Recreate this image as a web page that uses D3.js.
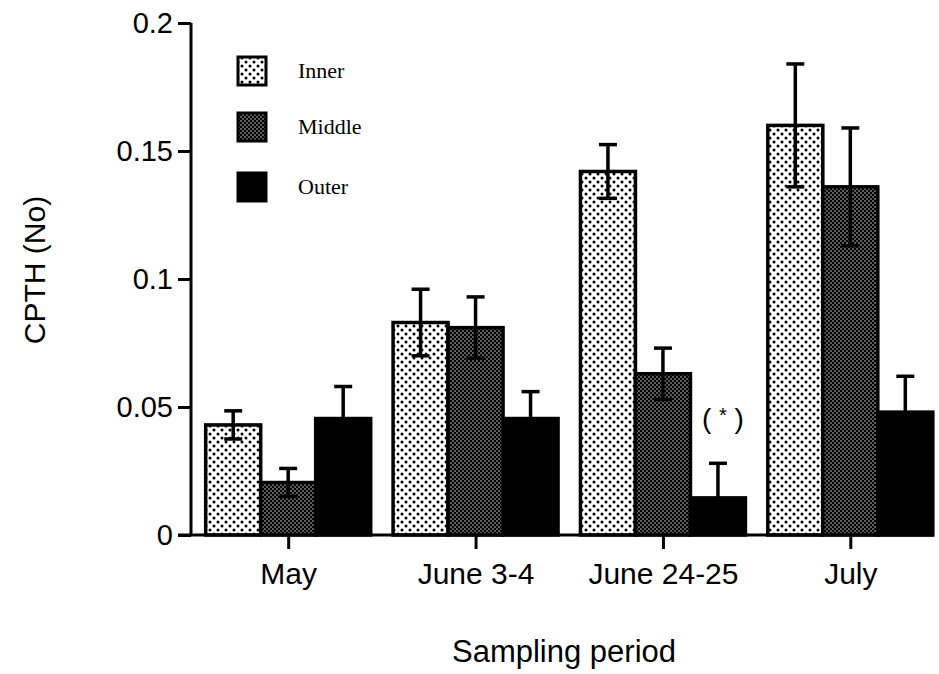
<!DOCTYPE html>
<html><head><meta charset="utf-8">
<script src="https://cdn.jsdelivr.net/npm/d3@7"></script>
<style>body{margin:0;background:#fff}svg{display:block}</style>
</head><body><svg id="c" width="939" height="674"></svg>
<script>
const categories = ["May", "June 3-4", "June 24-25", "July"];
const seriesNames = ["Inner", "Middle", "Outer"];
const inner  = [0.043, 0.083, 0.142, 0.160];
const middle = [0.0205, 0.081, 0.063, 0.136];
const outer  = [0.0455, 0.0455, 0.0145, 0.048];
const innerErr  = [0.0055, 0.013, 0.0105, 0.024];
const middleErr = [0.0055, 0.012, 0.010, 0.023];
const outerErr  = [0.0125, 0.0105, 0.0135, 0.014];
const yTicks = [0, 0.05, 0.1, 0.15, 0.2];
const yTickLabels = ["0", "0.05", "0.1", "0.15", "0.2"];

const values = [inner, middle, outer];
const errs = [innerErr, middleErr, outerErr];

const svg = d3.select("#c");
const defs = svg.append("defs");
const p1 = defs.append("pattern").attr("id","pInner").attr("patternUnits","userSpaceOnUse")
  .attr("width",8).attr("height",8);
p1.append("rect").attr("width",8).attr("height",8).attr("fill","#fff");
p1.append("circle").attr("cx",2).attr("cy",2).attr("r",1.5).attr("fill","#000");
p1.append("circle").attr("cx",6).attr("cy",6).attr("r",1.5).attr("fill","#000");
const p2 = defs.append("pattern").attr("id","pMiddle").attr("patternUnits","userSpaceOnUse")
  .attr("width",4).attr("height",4);
p2.append("rect").attr("width",4).attr("height",4).attr("fill","#000");
p2.append("circle").attr("cx",1).attr("cy",1).attr("r",0.7).attr("fill","#fff");
p2.append("circle").attr("cx",3).attr("cy",3).attr("r",0.7).attr("fill","#fff");
const fills = ["url(#pInner)", "url(#pMiddle)", "#000"];

const axisX = 191, baseY = 535, topY = 23, rightX = 933;
const y = d3.scaleLinear().domain([0, 0.2]).range([baseY, topY]);
const x0 = d3.scaleBand().domain(categories).range([194.5, 944]).padding(0);
const groupW = 165;
const x1 = d3.scaleBand().domain(seriesNames).range([-groupW/2, groupW/2]).padding(0);
const cx = c => x0(c) + x0.bandwidth()/2;

categories.forEach((c, i) => {
  seriesNames.forEach((s, j) => {
    svg.append("rect")
      .attr("x", cx(c) + x1(s))
      .attr("y", y(values[j][i]))
      .attr("width", x1.bandwidth())
      .attr("height", y(0) - y(values[j][i]))
      .attr("fill", fills[j])
      .attr("stroke", "#000").attr("stroke-width", 3.5);
  });
});
categories.forEach((c, i) => {
  seriesNames.forEach((s, j) => {
    const xm = cx(c) + x1(s) + x1.bandwidth()/2;
    const v = values[j][i], e = errs[j][i];
    const g = svg.append("g").attr("stroke","#000").attr("stroke-width",3.5).attr("fill","none");
    g.append("line").attr("x1",xm).attr("x2",xm).attr("y1",y(v+e)).attr("y2",y(Math.max(0,v-e)));
    g.append("line").attr("x1",xm-9).attr("x2",xm+9).attr("y1",y(v+e)).attr("y2",y(v+e));
    g.append("line").attr("x1",xm-9).attr("x2",xm+9).attr("y1",y(Math.max(0,v-e))).attr("y2",y(Math.max(0,v-e)));
  });
});

const yAxis = d3.axisLeft(y).tickValues(yTicks).tickFormat((d,i)=>yTickLabels[i]).tickSize(13).tickPadding(5);
const ga = svg.append("g").attr("transform",`translate(${axisX},0)`).call(yAxis);
ga.select(".domain").attr("stroke-width",3).attr("d",`M0,${topY}V${baseY}`);
ga.selectAll(".tick line").attr("stroke-width",3);
ga.selectAll("text").attr("font-family","Liberation Sans, Arial, sans-serif").attr("font-size",29).attr("fill","#000");

svg.append("line").attr("x1",axisX-13).attr("x2",rightX).attr("y1",baseY).attr("y2",baseY)
  .attr("stroke","#000").attr("stroke-width",3);
const gx = svg.append("g").attr("transform",`translate(0,${baseY})`)
  .call(d3.axisBottom(d3.scalePoint().domain(categories).range([cx(categories[0]), cx(categories[3])])).tickSize(14).tickPadding(14));
gx.select(".domain").remove();
gx.selectAll(".tick line").attr("stroke-width",3);
gx.selectAll("text").attr("font-family","Liberation Sans, Arial, sans-serif").attr("font-size",30).attr("fill","#000");

// annotation (*)
const ann = svg.append("text").attr("x", cx(categories[2]) + x1("Outer") + x1.bandwidth()/2 + 5).attr("y", 428)
  .attr("text-anchor","middle").attr("font-family","Liberation Sans, Arial, sans-serif").attr("font-size",28)
  .attr("xml:space","preserve");
ann.append("tspan").text("( ");
ann.append("tspan").attr("dy",-6).attr("font-size",20).text("*");
ann.append("tspan").attr("dy",6).text(" )");

svg.append("text").attr("x",564).attr("y",662).attr("text-anchor","middle")
  .attr("font-family","Liberation Sans, Arial, sans-serif").attr("font-size",31).text("Sampling period");
svg.append("text").attr("transform","translate(45,270) rotate(-90)").attr("text-anchor","middle")
  .attr("font-family","Liberation Sans, Arial, sans-serif").attr("font-size",30).text("CPTH (No)");

const legY = [57, 113, 173];
seriesNames.forEach((s, j) => {
  svg.append("rect").attr("x",238).attr("y",legY[j]).attr("width",28).attr("height",28)
    .attr("fill",fills[j]).attr("stroke","#000").attr("stroke-width",3);
  svg.append("text").attr("x",298).attr("y",legY[j]+21)
    .attr("font-family","Liberation Serif, Times New Roman, serif").attr("font-size",22).text(s);
});
</script></body></html>
